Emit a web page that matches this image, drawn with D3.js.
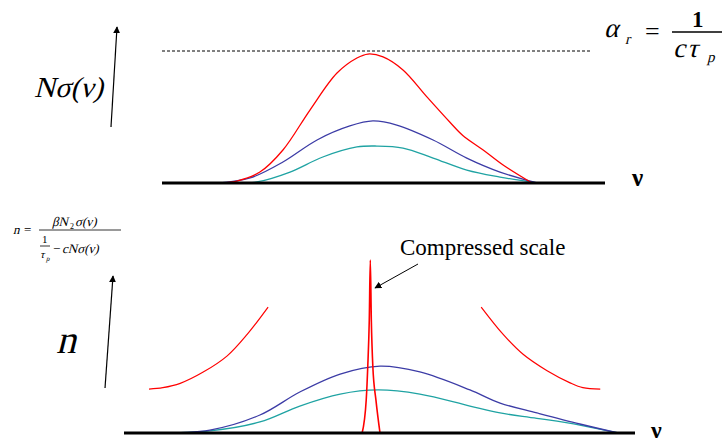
<!DOCTYPE html>
<html>
<head>
<meta charset="utf-8">
<script src="https://cdn.jsdelivr.net/npm/d3@7"></script>
<style>
  body { margin: 0; background: #fff; }
  svg { display: block; }
  text { font-family: "Liberation Serif", "Times New Roman", Times, serif; }
</style>
</head>
<body>
<div id="chart"></div>
<script>
// frequency positions (arbitrary nu units, 0-100 across each axis)
var topRedNu   = [12.6, 16.9, 22.1, 27.3, 33.4, 39.5, 44.0, 46.5, 49.9, 54.4, 59.8, 65.0, 67.9, 72.5, 77.0, 83.5];
var topRed     = [0, 0.015, 0.083, 0.25, 0.553, 0.833, 0.947, 0.977, 0.955, 0.856, 0.652, 0.46, 0.36, 0.25, 0.136, 0];
var topBlueNu  = [13.1, 19.9, 27.3, 35.0, 42.4, 47.6, 53.0, 61.2, 68.8, 76.3, 84.7];
var topBlue    = [0, 0.038, 0.159, 0.326, 0.432, 0.47, 0.439, 0.326, 0.189, 0.083, 0];
var topTealNu  = [14.2, 21.4, 28.9, 36.3, 44.0, 48.5, 54.4, 61.2, 68.8, 76.3, 84.7];
var topTeal    = [0, 0.008, 0.083, 0.197, 0.273, 0.28, 0.265, 0.189, 0.098, 0.045, 0];
var alphaR = 1; // loss level (dashed line)

var botBlueNu  = [4.9, 16.8, 26.6, 34.4, 42.3, 50.1, 57.9, 67.7, 73.6, 80.8, 89.2, 96.7];
var botBlue    = [0, 0.017, 0.104, 0.237, 0.341, 0.387, 0.353, 0.249, 0.173, 0.116, 0.052, 0];
var botTealNu  = [6.1, 16.8, 26.6, 34.4, 42.3, 49.7, 57.9, 67.7, 73.6, 80.8, 89.2, 96.7];
var botTeal    = [0, 0.012, 0.064, 0.156, 0.225, 0.249, 0.225, 0.156, 0.116, 0.085, 0.046, 0];
var redLeftNu  = [4.9, 7.6, 11.0, 15.5, 20.2, 24.1, 28.2];
var redLeft    = [0.254, 0.262, 0.287, 0.352, 0.446, 0.57, 0.728];
var redRightNu = [69.9, 74.2, 78.1, 82.8, 87.3, 89.8, 93.2];
var redRight   = [0.728, 0.57, 0.455, 0.36, 0.29, 0.262, 0.254];
var spikeNu    = [46.6, 47.4, 47.7, 48.0, 48.2, 48.4, 48.7, 49.3, 50.1];
var spike      = [0, 0.191, 0.382, 0.653, 1, 0.653, 0.382, 0.191, 0];

const w = 722;
const h = 445;
const RED = "#ff0000", BLUE = "#3c3ca6", TEAL = "#1fa3a3";

const svg = d3.select("#chart").append("svg")
  .attr("width", w).attr("height", h);

svg.append("defs").append("marker")
  .attr("id", "arr").attr("viewBox", "0 0 10 10")
  .attr("refX", 9).attr("refY", 5)
  .attr("markerWidth", 7).attr("markerHeight", 7)
  .attr("markerUnits", "userSpaceOnUse")
  .attr("orient", "auto")
  .append("path").attr("d", "M0,0 L10,5 L0,10 Z").attr("fill", "#000");

function zip(xs, ys) { return xs.map((x, i) => [x, ys[i]]); }

// italic serif text (slanted regular face, so it stays Times-like)
function itext(x, y, size, str) {
  return svg.append("text")
    .attr("transform", "translate(" + x + "," + y + ") skewX(-14)")
    .attr("font-size", size).text(str);
}

// ---------- top panel ----------
const x1 = d3.scaleLinear().domain([0, 100]).range([162, 605]);
const y1 = d3.scaleLinear().domain([0, alphaR]).range([183, 51]);
const line1 = d3.line().x(d => x1(d[0])).y(d => y1(d[1])).curve(d3.curveCatmullRom.alpha(0.5));

svg.append("line")
  .attr("x1", x1(0)).attr("x2", x1(97)).attr("y1", y1(alphaR)).attr("y2", y1(alphaR))
  .attr("stroke", "#000").attr("stroke-width", 1).attr("stroke-dasharray", "3,2");

[[topTealNu, topTeal, TEAL], [topBlueNu, topBlue, BLUE], [topRedNu, topRed, RED]].forEach(function(s){
  svg.append("path").datum(zip(s[0], s[1])).attr("d", line1)
    .attr("fill", "none").attr("stroke", s[2]).attr("stroke-width", 1.3);
});

svg.append("line")
  .attr("x1", x1(0)).attr("x2", x1(100)).attr("y1", y1(0)).attr("y2", y1(0))
  .attr("stroke", "#000").attr("stroke-width", 3);

svg.append("text").attr("x", 632).attr("y", 186)
  .attr("font-size", 25).attr("font-weight", "bold").text("ν");

// y arrow + label
svg.append("line").attr("x1", 111).attr("y1", 127).attr("x2", 117).attr("y2", 27)
  .attr("stroke", "#000").attr("stroke-width", 1.2).attr("marker-end", "url(#arr)");
itext(34, 97, 29, "Nσ(ν)");

// alpha_r = 1 / (c tau_p)
itext(604, 37, 27, "α");
itext(625, 44, 15, "r");
svg.append("text").attr("x", 645).attr("y", 40).attr("font-size", 26).text("=");
svg.append("text").attr("x", 692).attr("y", 27).attr("font-size", 23).attr("font-weight", "bold").text("1");
svg.append("line").attr("x1", 672).attr("x2", 722).attr("y1", 32).attr("y2", 32)
  .attr("stroke", "#000").attr("stroke-width", 1.5);
itext(673, 57, 27, "c");
itext(687, 57, 27, "τ");
itext(707, 62, 15, "p");

// ---------- bottom panel ----------
const x2 = d3.scaleLinear().domain([0, 100]).range([124, 635]);
const y2 = d3.scaleLinear().domain([0, 1]).range([433, 260]);
const line2 = d3.line().x(d => x2(d[0])).y(d => y2(d[1])).curve(d3.curveCatmullRom.alpha(0.5));
const spikeLine = d3.line().x(d => x2(d[0])).y(d => y2(d[1])).curve(d3.curveMonotoneX);

[[botTealNu, botTeal, TEAL, 1.3], [botBlueNu, botBlue, BLUE, 1.3],
 [redLeftNu, redLeft, RED, 1.2], [redRightNu, redRight, RED, 1.2]].forEach(function(s){
  svg.append("path").datum(zip(s[0], s[1])).attr("d", line2)
    .attr("fill", "none").attr("stroke", s[2]).attr("stroke-width", s[3]);
});
svg.append("path").datum(zip(spikeNu, spike)).attr("d", spikeLine)
  .attr("fill", "none").attr("stroke", RED).attr("stroke-width", 1.6);

svg.append("line")
  .attr("x1", x2(0)).attr("x2", x2(100)).attr("y1", y2(0)).attr("y2", y2(0))
  .attr("stroke", "#000").attr("stroke-width", 3);

svg.append("text").attr("x", 651).attr("y", 438)
  .attr("font-size", 24).attr("font-weight", "bold").text("ν");

svg.append("line").attr("x1", 105).attr("y1", 388).attr("x2", 113).attr("y2", 276)
  .attr("stroke", "#000").attr("stroke-width", 1.2).attr("marker-end", "url(#arr)");
itext(56, 353, 40, "n");

// annotation
svg.append("text").attr("x", 400).attr("y", 255).attr("font-size", 23).text("Compressed scale");
svg.append("line").attr("x1", 418).attr("y1", 264).attr("x2", 375).attr("y2", 288)
  .attr("stroke", "#000").attr("stroke-width", 1).attr("marker-end", "url(#arr)");

// n = beta N2 sigma / (1/tau_p - c N sigma)
itext(13, 234, 13, "n");
svg.append("text").attr("x", 24).attr("y", 234).attr("font-size", 13).text("=");
itext(52, 226, 13, "βN");
svg.append("text").attr("x", 70).attr("y", 229).attr("font-size", 8).text("2");
itext(75, 226, 13, "σ(ν)");
svg.append("line").attr("x1", 39).attr("x2", 121).attr("y1", 230).attr("y2", 230)
  .attr("stroke", "#000").attr("stroke-width", 0.8);
svg.append("text").attr("x", 42).attr("y", 243).attr("font-size", 11).text("1");
svg.append("line").attr("x1", 40).attr("x2", 50).attr("y1", 246).attr("y2", 246)
  .attr("stroke", "#000").attr("stroke-width", 0.8);
itext(40, 258, 11, "τ");
itext(46, 261, 7, "p");
svg.append("text").attr("x", 53).attr("y", 253).attr("font-size", 13).text("−");
itext(62, 253, 13, "cNσ(ν)");
</script>
</body>
</html>
